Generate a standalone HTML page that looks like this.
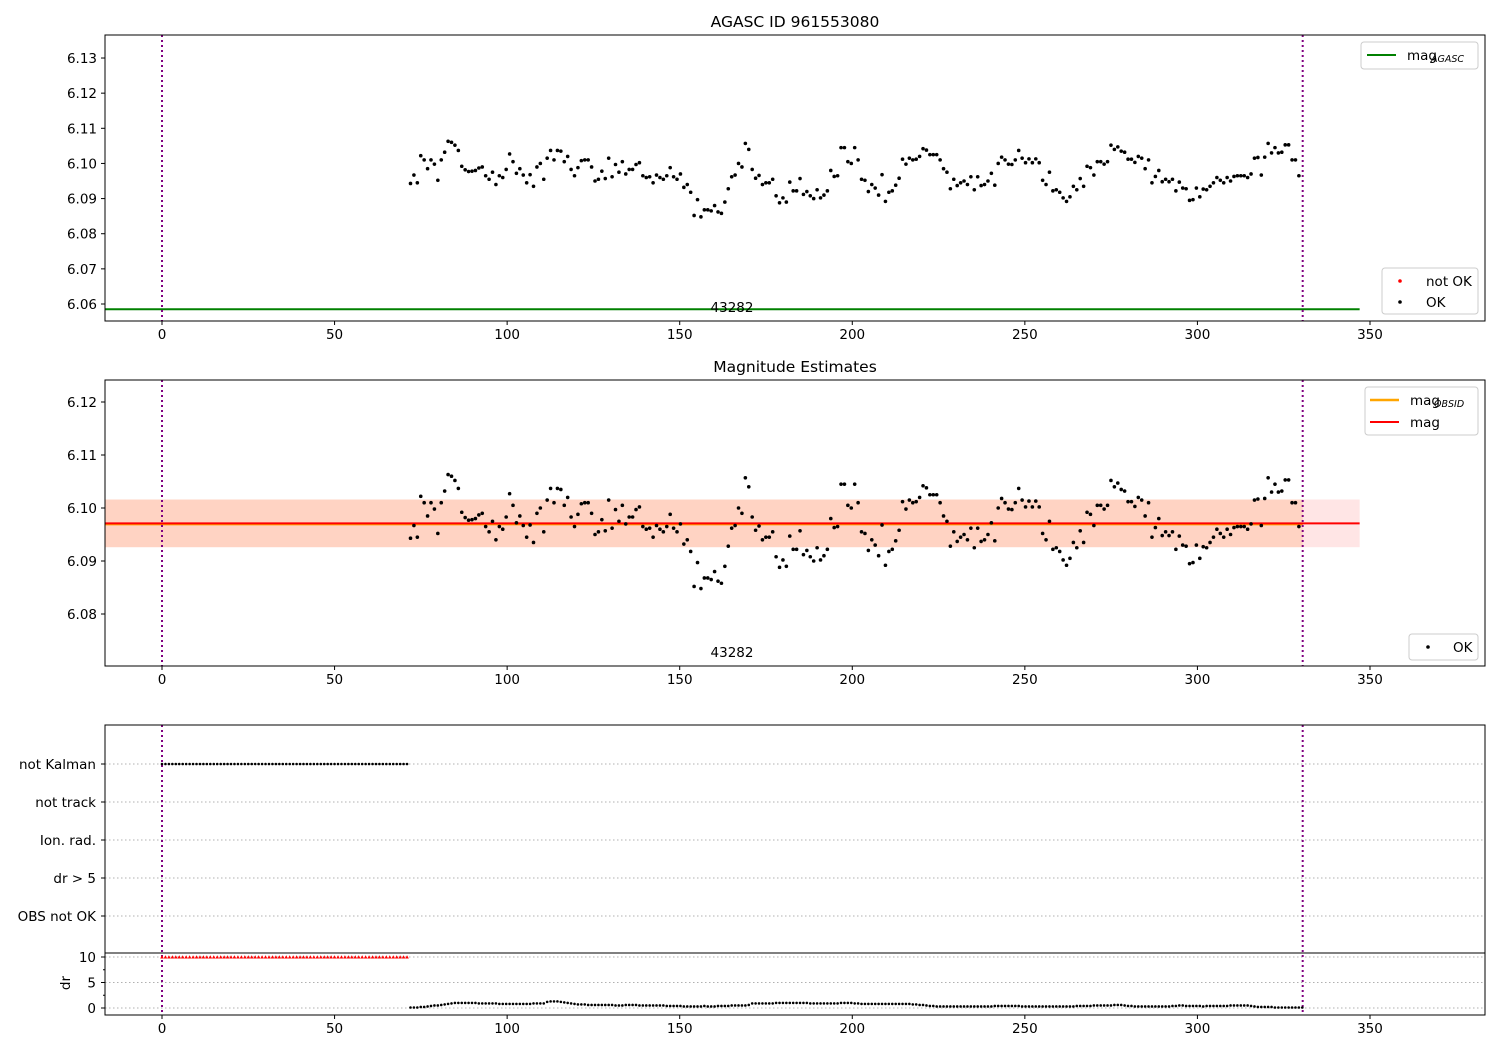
<!DOCTYPE html>
<html><head><meta charset="utf-8"><style>
body{margin:0;background:#fff}
svg{display:block;font-family:"DejaVu Sans","Liberation Sans",sans-serif}
</style></head><body>
<svg id="fig" width="1500" height="1050" xmlns="http://www.w3.org/2000/svg"></svg>
<script>
const tStart = 72.0;
const tStep = 0.99;
const mags = [6.0943,6.0967,6.0945,6.1022,6.1010,6.0985,6.1010,6.0998,6.0952,6.1010,6.1032,6.1063,6.1060,6.1052,6.1037,6.0992,6.0982,6.0977,6.0978,6.0980,6.0987,6.0990,6.0965,6.0955,6.0975,6.0940,6.0965,6.0960,6.0983,6.1027,6.1005,6.0972,6.0985,6.0967,6.0945,6.0968,6.0935,6.0990,6.1000,6.0955,6.1015,6.1037,6.1010,6.1037,6.1035,6.1005,6.1020,6.0983,6.0965,6.0988,6.1008,6.1010,6.1010,6.0990,6.0950,6.0955,6.0978,6.0957,6.1015,6.0962,6.0997,6.0975,6.1005,6.0970,6.0983,6.0983,6.0997,6.1002,6.0965,6.0960,6.0962,6.0945,6.0967,6.0960,6.0955,6.0965,6.0988,6.0962,6.0955,6.0970,6.0932,6.0940,6.0918,6.0852,6.0897,6.0848,6.0868,6.0868,6.0865,6.0880,6.0862,6.0858,6.0890,6.0928,6.0962,6.0967,6.1000,6.0990,6.1057,6.1040,6.0983,6.0958,6.0966,6.0940,6.0945,6.0945,6.0955,6.0908,6.0888,6.0902,6.0890,6.0947,6.0922,6.0922,6.0957,6.0912,6.0920,6.0908,6.0900,6.0925,6.0902,6.0910,6.0922,6.0980,6.0963,6.0965,6.1045,6.1045,6.1005,6.1000,6.1045,6.1010,6.0955,6.0952,6.0920,6.0940,6.0930,6.0910,6.0968,6.0892,6.0918,6.0922,6.0938,6.0958,6.1012,6.0998,6.1015,6.1010,6.1012,6.1020,6.1042,6.1038,6.1025,6.1025,6.1025,6.1010,6.0985,6.0975,6.0928,6.0955,6.0937,6.0945,6.0950,6.0940,6.0962,6.0925,6.0962,6.0937,6.0940,6.0950,6.0972,6.0938,6.1000,6.1018,6.1010,6.0998,6.0997,6.1010,6.1037,6.1015,6.1002,6.1013,6.1002,6.1013,6.1002,6.0952,6.0940,6.0975,6.0922,6.0925,6.0918,6.0902,6.0892,6.0905,6.0935,6.0925,6.0957,6.0935,6.0992,6.0988,6.0967,6.1005,6.1005,6.0998,6.1005,6.1052,6.1040,6.1047,6.1035,6.1032,6.1012,6.1012,6.1003,6.1020,6.1015,6.0985,6.1010,6.0945,6.0963,6.0980,6.0948,6.0955,6.0948,6.0955,6.0922,6.0947,6.0930,6.0928,6.0895,6.0897,6.0930,6.0905,6.0927,6.0925,6.0935,6.0945,6.0960,6.0952,6.0945,6.0960,6.0950,6.0963,6.0965,6.0965,6.0965,6.0960,6.0970,6.1015,6.1017,6.0967,6.1018,6.1057,6.1030,6.1045,6.1030,6.1032,6.1053,6.1053,6.1010,6.1010,6.0965];
const drVals = [0.1,0.1,0.1,0.2,0.2,0.3,0.4,0.5,0.5,0.6,0.7,0.8,0.9,1.0,1.0,1.0,1.0,1.0,1.0,1.0,0.9,0.9,0.9,0.9,0.9,0.9,0.8,0.8,0.8,0.8,0.8,0.8,0.8,0.8,0.8,0.8,0.9,0.9,0.9,0.9,1.2,1.3,1.3,1.3,1.2,1.1,1.0,0.9,0.8,0.7,0.7,0.7,0.6,0.6,0.6,0.6,0.6,0.6,0.6,0.6,0.5,0.5,0.5,0.6,0.6,0.6,0.6,0.5,0.5,0.5,0.5,0.5,0.5,0.5,0.5,0.4,0.4,0.4,0.4,0.4,0.3,0.3,0.3,0.3,0.3,0.3,0.4,0.3,0.3,0.3,0.4,0.4,0.4,0.4,0.5,0.5,0.5,0.5,0.5,0.6,0.9,0.9,0.9,0.9,0.9,0.9,0.9,1.0,1.0,1.0,1.0,1.0,1.0,1.0,1.0,1.0,1.0,0.9,0.9,0.9,0.9,0.9,0.9,0.9,0.9,0.9,1.0,1.0,1.0,1.0,0.9,0.9,0.8,0.8,0.8,0.8,0.8,0.8,0.8,0.8,0.8,0.8,0.8,0.8,0.8,0.8,0.8,0.7,0.7,0.6,0.6,0.5,0.4,0.4,0.3,0.3,0.3,0.3,0.3,0.3,0.3,0.3,0.3,0.3,0.3,0.3,0.3,0.3,0.3,0.3,0.3,0.4,0.4,0.4,0.4,0.4,0.4,0.4,0.4,0.3,0.3,0.3,0.3,0.3,0.3,0.3,0.3,0.3,0.3,0.3,0.3,0.3,0.3,0.3,0.3,0.4,0.4,0.4,0.4,0.4,0.5,0.5,0.5,0.5,0.5,0.5,0.6,0.6,0.6,0.5,0.4,0.4,0.3,0.3,0.3,0.3,0.3,0.3,0.3,0.3,0.3,0.3,0.3,0.4,0.4,0.5,0.5,0.4,0.4,0.4,0.4,0.4,0.3,0.4,0.4,0.4,0.4,0.4,0.4,0.4,0.5,0.5,0.5,0.5,0.5,0.5,0.4,0.3,0.2,0.2,0.2,0.2,0.2,0.1,0.1,0.1,0.1,0.1,0.1,0.1,0.1,0.1];
const badStart = 0.0;
const badEnd = 71.0;
const badStep = 1.0;
const badDr = 10;
const magAgasc = 6.0585;
const magObs = 6.0971;
const magObsLow = 6.0926;
const magObsHigh = 6.1016;
const obsStart = -16.5;
const obsEnd = 330.5;
const bandEnd = 347;
const xTicks = [0,50,100,150,200,250,300,350];
const y1Ticks = [6.06,6.07,6.08,6.09,6.10,6.11,6.12,6.13];
const y2Ticks = [6.08,6.09,6.10,6.11,6.12];
const catLabels = ["not Kalman","not track","Ion. rad.","dr > 5","OBS not OK"];
const drTicks = [0,5,10];

const NS="http://www.w3.org/2000/svg";
const svg=document.getElementById('fig');
function el(tag,attrs,parent){const e=document.createElementNS(NS,tag);for(const k in attrs)e.setAttribute(k,attrs[k]);(parent||svg).appendChild(e);return e;}
function txt(s,attrs,parent){const e=el('text',attrs,parent);e.textContent=s;return e;}
const X=t=>162+t*3.4514;
const L=105,R=1485;
const Y1=v=>304-(v-6.06)*3514;
const Y2=v=>508-(v-6.10)*5300;
const YD=d=>1008-d*5.1;
const times=mags.map((m,i)=>tStart+i*tStep);
const fs=13.5;

function xAxis(yb,g){
  xTicks.forEach(t=>{el('line',{x1:X(t),x2:X(t),y1:yb,y2:yb+4,stroke:'#000'},g);
    const tx=txt(String(t),{x:X(t),y:yb+18,'text-anchor':'middle','font-size':fs},g);
    });
}
function vlines(y0,y1,g){[0,obsEnd].forEach(t=>{const l=el('line',{x1:X(t),x2:X(t),y1:y0,y2:y1,stroke:'purple','stroke-width':2,'stroke-dasharray':'2,3'},g);
  });}
function dots(Yf,g,name){mags.forEach((m,i)=>{const c=el('circle',{cx:X(times[i]),cy:Yf(m),r:1.8,fill:'#000'},g);
  });}

// Panel 1
const p1=el('g',{});
txt('AGASC ID 961553080',{x:795,y:27,'text-anchor':'middle','font-size':15.5},p1);
el('clipPath',{id:'c1'},p1);el('rect',{x:L,y:35,width:R-L,height:286},document.getElementById('c1'));
const g1=el('g',{'clip-path':'url(#c1)'},p1);
const ag=el('line',{x1:L,x2:X(bandEnd),y1:Y1(magAgasc),y2:Y1(magAgasc),stroke:'green','stroke-width':2},g1);

vlines(35,321,g1);dots(Y1,g1,'ok-point');
txt('43282',{x:732,y:312,'text-anchor':'middle','font-size':fs},p1);
el('rect',{x:L,y:35,width:R-L,height:286,fill:'none',stroke:'#000'},p1);
y1Ticks.forEach(v=>{el('line',{x1:L-4,x2:L,y1:Y1(v),y2:Y1(v),stroke:'#000'},p1);txt(v.toFixed(2),{x:L-8,y:Y1(v)+5,'text-anchor':'end','font-size':fs},p1);});
xAxis(321,p1);
let lg=el('g',{},p1);
el('rect',{x:1361,y:42,width:117,height:27,rx:3,fill:'#fff',stroke:'#ccc'},lg);
el('line',{x1:1367,x2:1396,y1:55,y2:55,stroke:'green','stroke-width':2},lg);
txt('mag',{x:1407,y:60,'font-size':fs},lg);txt('AGASC',{x:1431,y:62,'font-size':9.5,'font-style':'italic'},lg);
lg=el('g',{},p1);
el('rect',{x:1382,y:268,width:96,height:46,rx:3,fill:'#fff',stroke:'#ccc'},lg);
el('circle',{cx:1400,cy:281,r:1.8,fill:'red'},lg);txt('not OK',{x:1426,y:286,'font-size':fs},lg);
el('circle',{cx:1400,cy:302,r:1.8,fill:'#000'},lg);txt('OK',{x:1426,y:307,'font-size':fs},lg);

// Panel 2
const p2=el('g',{});
txt('Magnitude Estimates',{x:795,y:372,'text-anchor':'middle','font-size':15.5},p2);
el('clipPath',{id:'c2'},p2);el('rect',{x:L,y:380,width:R-L,height:286},document.getElementById('c2'));
const g2=el('g',{'clip-path':'url(#c2)'},p2);
let b=el('rect',{x:X(obsStart),y:Y2(magObsHigh),width:X(bandEnd)-X(obsStart),height:Y2(magObsLow)-Y2(magObsHigh),fill:'red','fill-opacity':0.1},g2);

b=el('rect',{x:X(obsStart),y:Y2(magObsHigh),width:X(obsEnd)-X(obsStart),height:Y2(magObsLow)-Y2(magObsHigh),fill:'#ff8c3c','fill-opacity':0.2},g2);

b=el('line',{x1:X(obsStart),x2:X(obsEnd),y1:Y2(magObs)+1,y2:Y2(magObs)+1,stroke:'orange','stroke-width':2},g2);

b=el('line',{x1:X(obsStart),x2:X(bandEnd),y1:Y2(magObs),y2:Y2(magObs),stroke:'red','stroke-width':2},g2);

vlines(380,666,g2);dots(Y2,g2,'ok-point');
txt('43282',{x:732,y:657,'text-anchor':'middle','font-size':fs},p2);
el('rect',{x:L,y:380,width:R-L,height:286,fill:'none',stroke:'#000'},p2);
y2Ticks.forEach(v=>{el('line',{x1:L-4,x2:L,y1:Y2(v),y2:Y2(v),stroke:'#000'},p2);txt(v.toFixed(2),{x:L-8,y:Y2(v)+5,'text-anchor':'end','font-size':fs},p2);});
xAxis(666,p2);
lg=el('g',{},p2);
el('rect',{x:1365,y:387,width:113,height:48,rx:3,fill:'#fff',stroke:'#ccc'},lg);
el('line',{x1:1370,x2:1399,y1:400,y2:400,stroke:'orange','stroke-width':2.5},lg);
txt('mag',{x:1410,y:405,'font-size':fs},lg);txt('OBSID',{x:1434,y:407,'font-size':9.5,'font-style':'italic'},lg);
el('line',{x1:1370,x2:1399,y1:422,y2:422,stroke:'red','stroke-width':2},lg);txt('mag',{x:1410,y:427,'font-size':fs},lg);
lg=el('g',{},p2);
el('rect',{x:1409,y:634,width:69,height:26,rx:3,fill:'#fff',stroke:'#ccc'},lg);
el('circle',{cx:1428,cy:647,r:1.8,fill:'#000'},lg);txt('OK',{x:1453,y:652,'font-size':fs},lg);

// Panel 3
const p3=el('g',{});
const catY=[764,802,840,878,916];
catLabels.forEach((c,i)=>{el('line',{x1:L,x2:R,y1:catY[i],y2:catY[i],stroke:'#b0b0b0','stroke-dasharray':'1.5,2.5'},p3);
  el('line',{x1:L-4,x2:L,y1:catY[i],y2:catY[i],stroke:'#000'},p3);
  const t=txt(c,{x:L-9,y:catY[i]+5,'text-anchor':'end','font-size':fs},p3);});
drTicks.forEach(d=>{el('line',{x1:L,x2:R,y1:YD(d),y2:YD(d),stroke:'#b0b0b0','stroke-dasharray':'1.5,2.5'},p3);
  el('line',{x1:L-4,x2:L,y1:YD(d),y2:YD(d),stroke:'#000'},p3);txt(String(d),{x:L-9,y:YD(d)+5,'text-anchor':'end','font-size':fs},p3);});
[2.5,7.5].forEach(d=>el('line',{x1:L-2,x2:L,y1:YD(d),y2:YD(d),stroke:'#000'},p3));
txt('dr',{x:70,y:983,'text-anchor':'middle','font-size':fs,transform:'rotate(-90 70 983)'},p3);
vlines(725,1015,p3);
for(let t=badStart;t<=badEnd;t+=badStep){
  let c=el('circle',{cx:X(t),cy:catY[0],r:1.3,fill:'#000'},p3);
  c=el('path',{d:`M${X(t)-1.8},${YD(badDr)+1.5}L${X(t)},${YD(badDr)-1.8}L${X(t)+1.8},${YD(badDr)+1.5}Z`,fill:'red'},p3);
}
drVals.forEach((d,i)=>{const c=el('circle',{cx:X(tStart+i*tStep),cy:YD(d),r:1.3,fill:'#000'},p3);});
el('rect',{x:L,y:725,width:R-L,height:290,fill:'none',stroke:'#000'},p3);
el('line',{x1:L,x2:R,y1:953,y2:953,stroke:'#000'},p3);
xAxis(1015,p3);
</script>
</body></html>
